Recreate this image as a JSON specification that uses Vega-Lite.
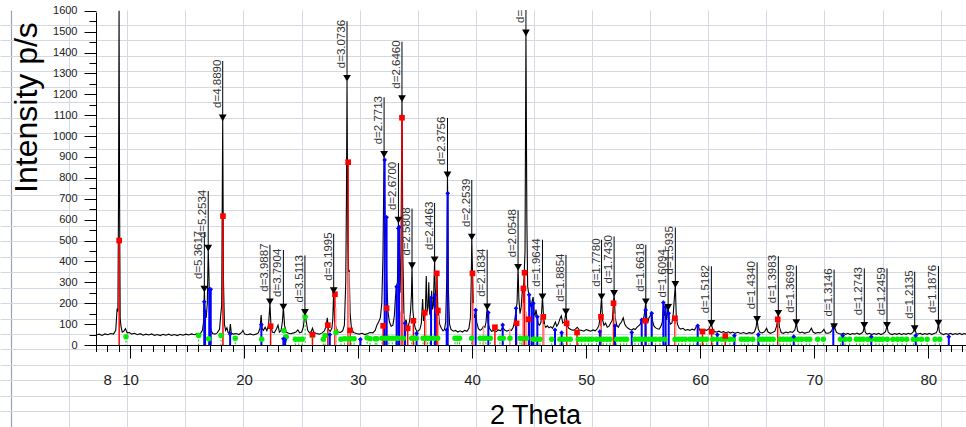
{
  "$schema": "https://vega.github.io/schema/vega-lite/v6.json",
  "width": 966,
  "height": 417,
  "autosize": {"type": "none"},
  "padding": {"top": 10, "left": 0, "right": 0, "bottom": 0},
  "background": "white",
  "config": {"view": {"stroke": null}, "font": "Liberation Sans"},
  "datasets": {
    "spectrum": [
      {"t":7.02,"i":48},{"t":7.3,"i":52},{"t":7.55,"i":46},{"t":7.8,"i":53},{"t":8.05,"i":49},{"t":8.3,"i":55},{"t":8.55,"i":52},{"t":8.75,"i":70},{"t":8.87,"i":175},{"t":8.94,"i":160},{"t":8.99,"i":650},{"t":9.04,"i":1600},{"t":9.09,"i":650},{"t":9.14,"i":125},{"t":9.22,"i":85},{"t":9.32,"i":62},{"t":9.45,"i":66},{"t":9.6,"i":78},{"t":9.75,"i":58},{"t":9.95,"i":60},
      {"t":10.15,"i":52},{"t":10.4,"i":56},{"t":10.65,"i":49},{"t":10.9,"i":54},{"t":11.15,"i":47},{"t":11.4,"i":52},{"t":11.65,"i":48},{"t":11.9,"i":53},{"t":12.15,"i":46},{"t":12.4,"i":50},{"t":12.65,"i":45},{"t":12.9,"i":51},{"t":13.15,"i":47},{"t":13.4,"i":52},{"t":13.65,"i":46},{"t":13.9,"i":50},{"t":14.15,"i":45},{"t":14.4,"i":51},{"t":14.65,"i":47},{"t":14.9,"i":52},{"t":15.15,"i":48},{"t":15.4,"i":53},{"t":15.65,"i":49},{"t":15.9,"i":55},
      {"t":16.15,"i":52},{"t":16.35,"i":70},{"t":16.45,"i":110},{"t":16.52,"i":265},{"t":16.6,"i":140},{"t":16.68,"i":130},{"t":16.78,"i":200},{"t":16.86,"i":460},{"t":16.93,"i":320},{"t":17.0,"i":110},{"t":17.1,"i":70},{"t":17.25,"i":55},{"t":17.45,"i":52},{"t":17.65,"i":58},{"t":17.85,"i":75},{"t":17.95,"i":140},{"t":18.04,"i":190},{"t":18.13,"i":1080},{"t":18.2,"i":300},{"t":18.28,"i":100},{"t":18.38,"i":70},{"t":18.5,"i":82},{"t":18.6,"i":60},{"t":18.72,"i":58},{"t":18.8,"i":100},{"t":18.88,"i":58},{"t":19.05,"i":52},{"t":19.3,"i":55},{"t":19.55,"i":50},{"t":19.8,"i":60},{"t":19.9,"i":70},
      {"t":20.05,"i":52},{"t":20.3,"i":49},{"t":20.55,"i":53},{"t":20.8,"i":48},{"t":21.05,"i":52},{"t":21.25,"i":58},{"t":21.4,"i":80},{"t":21.5,"i":143},{"t":21.58,"i":80},{"t":21.7,"i":70},{"t":21.85,"i":85},{"t":22.0,"i":68},{"t":22.15,"i":95},{"t":22.27,"i":200},{"t":22.36,"i":95},{"t":22.48,"i":62},{"t":22.65,"i":58},{"t":22.85,"i":78},{"t":22.98,"i":95},{"t":23.1,"i":62},{"t":23.25,"i":70},{"t":23.36,"i":110},{"t":23.45,"i":180},{"t":23.55,"i":95},{"t":23.7,"i":62},{"t":23.9,"i":56},{"t":24.1,"i":54},{"t":24.35,"i":58},{"t":24.55,"i":62},{"t":24.72,"i":72},{"t":24.88,"i":58},{"t":25.05,"i":62},{"t":25.2,"i":85},{"t":25.34,"i":155},{"t":25.45,"i":115},{"t":25.58,"i":70},{"t":25.75,"i":58},{"t":25.9,"i":65},
      {"t":26.0,"i":80},{"t":26.12,"i":60},{"t":26.35,"i":55},{"t":26.6,"i":52},{"t":26.85,"i":58},{"t":27.05,"i":68},{"t":27.2,"i":90},{"t":27.3,"i":130},{"t":27.4,"i":75},{"t":27.55,"i":65},{"t":27.7,"i":80},{"t":27.78,"i":120},{"t":27.86,"i":258},{"t":27.94,"i":120},{"t":28.02,"i":95},{"t":28.12,"i":78},{"t":28.25,"i":62},{"t":28.45,"i":60},{"t":28.65,"i":68},{"t":28.8,"i":95},{"t":28.92,"i":300},{"t":28.98,"i":700},{"t":29.03,"i":1265},{"t":29.1,"i":500},{"t":29.17,"i":300},{"t":29.22,"i":360},{"t":29.3,"i":150},{"t":29.42,"i":80},{"t":29.6,"i":60},{"t":29.85,"i":55},
      {"t":30.1,"i":52},{"t":30.35,"i":56},{"t":30.6,"i":50},{"t":30.85,"i":55},{"t":31.05,"i":60},{"t":31.3,"i":58},{"t":31.5,"i":70},{"t":31.65,"i":95},{"t":31.8,"i":110},{"t":31.95,"i":130},{"t":32.08,"i":200},{"t":32.18,"i":420},{"t":32.28,"i":905},{"t":32.36,"i":600},{"t":32.44,"i":500},{"t":32.52,"i":300},{"t":32.62,"i":160},{"t":32.75,"i":110},{"t":32.9,"i":90},{"t":33.05,"i":95},{"t":33.18,"i":140},{"t":33.28,"i":230},{"t":33.36,"i":280},{"t":33.45,"i":300},{"t":33.54,"i":590},{"t":33.6,"i":360},{"t":33.68,"i":250},{"t":33.76,"i":450},{"t":33.85,"i":1170},{"t":33.93,"i":420},
      {"t":34.02,"i":150},{"t":34.12,"i":105},{"t":34.22,"i":120},{"t":34.32,"i":80},{"t":34.42,"i":95},{"t":34.52,"i":115},{"t":34.6,"i":160},{"t":34.68,"i":240},{"t":34.73,"i":375},{"t":34.8,"i":170},{"t":34.9,"i":110},{"t":35.02,"i":80},{"t":35.15,"i":65},{"t":35.3,"i":68},{"t":35.42,"i":75},{"t":35.55,"i":105},{"t":35.66,"i":220},{"t":35.74,"i":115},{"t":35.82,"i":130},{"t":35.9,"i":160},{"t":35.98,"i":330},{"t":36.06,"i":160},{"t":36.14,"i":180},{"t":36.2,"i":300},{"t":36.28,"i":150},{"t":36.36,"i":140},{"t":36.45,"i":260},{"t":36.52,"i":170},{"t":36.6,"i":190},{"t":36.71,"i":400},{"t":36.78,"i":220},{"t":36.86,"i":250},{"t":36.92,"i":330},{"t":36.99,"i":180},{"t":37.06,"i":150},{"t":37.15,"i":100},{"t":37.3,"i":80},{"t":37.45,"i":68},{"t":37.58,"i":75},{"t":37.68,"i":110},{"t":37.77,"i":300},{"t":37.84,"i":810},{"t":37.92,"i":260},
      {"t":38.02,"i":100},{"t":38.15,"i":75},{"t":38.35,"i":66},{"t":38.55,"i":70},{"t":38.75,"i":62},{"t":38.95,"i":68},{"t":39.15,"i":62},{"t":39.35,"i":70},{"t":39.55,"i":66},{"t":39.72,"i":80},{"t":39.85,"i":130},{"t":39.92,"i":300},{"t":39.97,"i":510},{"t":40.04,"i":330},{"t":40.12,"i":150},{"t":40.22,"i":130},{"t":40.31,"i":170},{"t":40.4,"i":110},{"t":40.55,"i":78},{"t":40.7,"i":70},{"t":40.85,"i":76},{"t":41.0,"i":90},{"t":41.12,"i":85},{"t":41.22,"i":110},{"t":41.32,"i":180},{"t":41.4,"i":110},{"t":41.52,"i":80},{"t":41.7,"i":66},{"t":41.9,"i":70},
      {"t":42.1,"i":64},{"t":42.3,"i":72},{"t":42.5,"i":68},{"t":42.68,"i":85},{"t":42.85,"i":72},{"t":43.05,"i":66},{"t":43.25,"i":72},{"t":43.45,"i":70},{"t":43.6,"i":85},{"t":43.72,"i":110},{"t":43.85,"i":170},{"t":43.94,"i":200},{"t":44.03,"i":370},{"t":44.1,"i":220},{"t":44.2,"i":150},{"t":44.3,"i":180},{"t":44.4,"i":260},{"t":44.49,"i":250},{"t":44.56,"i":330},{"t":44.64,"i":450},{"t":44.72,"i":1490},{"t":44.8,"i":600},{"t":44.87,"i":280},{"t":44.95,"i":250},{"t":45.02,"i":240},{"t":45.1,"i":200},{"t":45.18,"i":180},{"t":45.26,"i":210},{"t":45.35,"i":230},{"t":45.44,"i":150},{"t":45.52,"i":140},{"t":45.6,"i":170},{"t":45.7,"i":135},{"t":45.8,"i":100},{"t":45.92,"i":95},
      {"t":46.04,"i":110},{"t":46.17,"i":230},{"t":46.26,"i":140},{"t":46.36,"i":95},{"t":46.46,"i":85},{"t":46.6,"i":92},{"t":46.75,"i":82},{"t":46.9,"i":88},{"t":47.05,"i":80},{"t":47.18,"i":95},{"t":47.3,"i":110},{"t":47.42,"i":90},{"t":47.55,"i":100},{"t":47.7,"i":125},{"t":47.82,"i":140},{"t":47.95,"i":105},{"t":48.1,"i":110},{"t":48.23,"i":160},{"t":48.33,"i":95},{"t":48.48,"i":80},{"t":48.65,"i":74},{"t":48.85,"i":70},{"t":49.05,"i":76},{"t":49.22,"i":85},{"t":49.4,"i":72},{"t":49.6,"i":70},{"t":49.8,"i":66},
      {"t":50.0,"i":74},{"t":50.2,"i":70},{"t":50.4,"i":66},{"t":50.6,"i":72},{"t":50.8,"i":68},{"t":51.0,"i":80},{"t":51.12,"i":95},{"t":51.24,"i":140},{"t":51.35,"i":230},{"t":51.44,"i":120},{"t":51.56,"i":95},{"t":51.7,"i":105},{"t":51.85,"i":85},{"t":52.0,"i":90},{"t":52.15,"i":105},{"t":52.3,"i":120},{"t":52.45,"i":245},{"t":52.55,"i":130},{"t":52.68,"i":95},{"t":52.82,"i":85},{"t":52.95,"i":100},{"t":53.1,"i":110},{"t":53.25,"i":130},{"t":53.38,"i":100},{"t":53.52,"i":88},{"t":53.68,"i":80},{"t":53.85,"i":74},
      {"t":54.0,"i":72},{"t":54.15,"i":78},{"t":54.3,"i":74},{"t":54.45,"i":84},{"t":54.6,"i":92},{"t":54.75,"i":100},{"t":54.87,"i":125},{"t":55.0,"i":120},{"t":55.1,"i":145},{"t":55.23,"i":205},{"t":55.32,"i":120},{"t":55.42,"i":110},{"t":55.5,"i":130},{"t":55.62,"i":140},{"t":55.72,"i":160},{"t":55.82,"i":115},{"t":55.95,"i":90},{"t":56.1,"i":82},{"t":56.25,"i":78},{"t":56.4,"i":76},{"t":56.55,"i":88},{"t":56.68,"i":110},{"t":56.78,"i":200},{"t":56.88,"i":140},{"t":56.97,"i":160},{"t":57.06,"i":120},{"t":57.19,"i":180},{"t":57.28,"i":115},{"t":57.4,"i":100},{"t":57.52,"i":105},{"t":57.64,"i":150},{"t":57.74,"i":230},{"t":57.82,"i":285},{"t":57.9,"i":140},{"t":58.0,"i":100},
      {"t":58.15,"i":82},{"t":58.3,"i":76},{"t":58.5,"i":80},{"t":58.7,"i":70},{"t":58.9,"i":74},{"t":59.1,"i":70},{"t":59.3,"i":76},{"t":59.5,"i":72},{"t":59.68,"i":90},{"t":59.8,"i":95},{"t":59.95,"i":72},{"t":60.15,"i":68},{"t":60.35,"i":74},{"t":60.55,"i":70},{"t":60.78,"i":78},{"t":60.98,"i":103},{"t":61.1,"i":72},{"t":61.25,"i":64},{"t":61.45,"i":62},{"t":61.65,"i":66},{"t":61.85,"i":60},
      {"t":62.05,"i":64},{"t":62.25,"i":58},{"t":62.45,"i":63},{"t":62.65,"i":57},{"t":62.85,"i":62},{"t":63.05,"i":56},{"t":63.3,"i":61},{"t":63.55,"i":55},{"t":63.8,"i":60},{"t":64.05,"i":54},{"t":64.3,"i":59},{"t":64.55,"i":56},{"t":64.75,"i":62},{"t":64.9,"i":85},{"t":64.99,"i":120},{"t":65.1,"i":75},{"t":65.25,"i":60},{"t":65.45,"i":58},{"t":65.65,"i":64},{"t":65.82,"i":80},{"t":65.95,"i":62},
      {"t":66.15,"i":56},{"t":66.35,"i":60},{"t":66.55,"i":66},{"t":66.7,"i":90},{"t":66.85,"i":150},{"t":66.95,"i":85},{"t":67.1,"i":60},{"t":67.3,"i":56},{"t":67.5,"i":62},{"t":67.7,"i":58},{"t":67.9,"i":64},{"t":68.1,"i":60},{"t":68.3,"i":72},{"t":68.43,"i":105},{"t":68.55,"i":66},{"t":68.75,"i":58},{"t":68.95,"i":62},{"t":69.15,"i":56},{"t":69.35,"i":60},{"t":69.55,"i":62},{"t":69.75,"i":80},{"t":69.9,"i":62},
      {"t":70.1,"i":56},{"t":70.3,"i":60},{"t":70.5,"i":58},{"t":70.7,"i":64},{"t":70.85,"i":75},{"t":71.0,"i":58},{"t":71.2,"i":56},{"t":71.4,"i":60},{"t":71.55,"i":70},{"t":71.66,"i":88},{"t":71.8,"i":82},{"t":71.95,"i":60},{"t":72.15,"i":55},{"t":72.35,"i":52},{"t":72.55,"i":57},{"t":72.75,"i":51},{"t":72.95,"i":56},{"t":73.15,"i":50},{"t":73.35,"i":55},{"t":73.55,"i":52},{"t":73.75,"i":57},{"t":73.95,"i":51},
      {"t":74.15,"i":56},{"t":74.3,"i":65},{"t":74.39,"i":92},{"t":74.48,"i":60},{"t":74.65,"i":52},{"t":74.85,"i":56},{"t":75.05,"i":50},{"t":75.25,"i":55},{"t":75.45,"i":51},{"t":75.65,"i":56},{"t":75.85,"i":50},{"t":76.05,"i":55},{"t":76.25,"i":64},{"t":76.38,"i":92},{"t":76.48,"i":62},{"t":76.65,"i":54},{"t":76.85,"i":50},{"t":77.05,"i":55},{"t":77.25,"i":51},{"t":77.45,"i":56},{"t":77.65,"i":50},{"t":77.85,"i":55},
      {"t":78.05,"i":51},{"t":78.25,"i":56},{"t":78.45,"i":52},{"t":78.65,"i":60},{"t":78.81,"i":78},{"t":78.92,"i":58},{"t":79.1,"i":52},{"t":79.3,"i":56},{"t":79.5,"i":50},{"t":79.7,"i":55},{"t":79.9,"i":51},{"t":80.1,"i":56},{"t":80.3,"i":50},{"t":80.5,"i":55},{"t":80.7,"i":58},{"t":80.8,"i":70},{"t":80.89,"i":103},{"t":80.98,"i":62},{"t":81.15,"i":54},{"t":81.35,"i":50},{"t":81.55,"i":55},{"t":81.75,"i":51},{"t":81.95,"i":56},
      {"t":82.15,"i":50},{"t":82.35,"i":55},{"t":82.55,"i":51},{"t":82.75,"i":56},{"t":82.95,"i":50},{"t":83.15,"i":55},{"t":83.31,"i":52}
    ],
    "red": [
      {"t":9.05,"i":500},{"t":18.15,"i":617},{"t":22.33,"i":90},{"t":26.0,"i":50},{"t":27.35,"i":95},{"t":27.97,"i":243},{"t":29.13,"i":875},{"t":29.3,"i":70},{"t":32.2,"i":92},{"t":32.5,"i":176},{"t":33.85,"i":1088},{"t":34.35,"i":80},{"t":34.85,"i":116},{"t":35.85,"i":155},{"t":36.9,"i":343},{"t":37.0,"i":165},{"t":40.03,"i":343},{"t":42.0,"i":85},{"t":43.9,"i":104},{"t":44.5,"i":271},{"t":44.6,"i":346},{"t":44.95,"i":123},{"t":46.24,"i":135},{"t":48.29,"i":104},{"t":49.2,"i":60},{"t":51.3,"i":135},{"t":52.4,"i":200},{"t":55.18,"i":116},{"t":57.79,"i":128},{"t":60.2,"i":65},{"t":61.0,"i":64},{"t":62.2,"i":43},{"t":66.8,"i":123}
    ],
    "pink": [
      {"t":28.05,"i":180},{"t":29.2,"i":350},{"t":33.7,"i":160},{"t":34.0,"i":150},{"t":35.95,"i":120},{"t":37.05,"i":140},{"t":40.1,"i":200},{"t":41.0,"i":90},{"t":43.3,"i":80},{"t":44.45,"i":200},{"t":44.75,"i":160},{"t":46.3,"i":100},{"t":51.25,"i":90},{"t":52.5,"i":150},{"t":55.25,"i":90},{"t":57.85,"i":100},{"t":66.9,"i":80}
    ],
    "blue": [
      {"t":16.51,"i":207},{"t":16.58,"i":160},{"t":16.95,"i":267},{"t":17.08,"i":267},{"t":18.78,"i":53},{"t":21.52,"i":98},{"t":23.45,"i":30},{"t":23.6,"i":25},{"t":27.52,"i":50},{"t":30.2,"i":27},{"t":32.33,"i":886},{"t":32.5,"i":611},{"t":33.38,"i":279},{"t":33.53,"i":558},{"t":33.6,"i":565},{"t":34.11,"i":104},{"t":35.13,"i":56},{"t":36.4,"i":226},{"t":36.74,"i":239},{"t":37.77,"i":72},{"t":37.86,"i":726},{"t":40.31,"i":167},{"t":41.42,"i":155},{"t":42.68,"i":96},{"t":43.85,"i":176},{"t":45.0,"i":240},{"t":45.22,"i":191},{"t":45.37,"i":200},{"t":45.72,"i":135},{"t":47.27,"i":72},{"t":47.85,"i":59},{"t":51.2,"i":64},{"t":52.53,"i":92},{"t":54.0,"i":60},{"t":54.87,"i":120},{"t":55.22,"i":167},{"t":55.75,"i":152},{"t":56.77,"i":203},{"t":56.97,"i":183},{"t":57.24,"i":152},{"t":59.78,"i":92},{"t":61.5,"i":50},{"t":63.0,"i":45},{"t":65.1,"i":50},{"t":68.2,"i":40},{"t":71.67,"i":90},{"t":72.5,"i":45},{"t":75.0,"i":40},{"t":78.9,"i":45},{"t":81.8,"i":40}
    ],
    "green": [
      {"t":9.65,"i":40},{"t":16.02,"i":45},{"t":16.9,"i":30},{"t":17.98,"i":45},{"t":19.23,"i":32},{"t":21.55,"i":27},{"t":23.5,"i":68},{"t":23.7,"i":40},{"t":24.5,"i":27},{"t":24.8,"i":27},{"t":25.1,"i":27},{"t":25.36,"i":135},{"t":26.0,"i":45},{"t":26.95,"i":27},{"t":27.1,"i":45},{"t":28.06,"i":60},{"t":28.5,"i":27},{"t":28.8,"i":30},{"t":29.1,"i":30},{"t":29.4,"i":30},{"t":29.65,"i":30},{"t":30.8,"i":35},{"t":31.05,"i":30},{"t":31.5,"i":30},{"t":31.65,"i":30},{"t":32.1,"i":32},{"t":32.4,"i":32},{"t":32.7,"i":32},{"t":33.0,"i":32},{"t":33.3,"i":32},{"t":33.5,"i":32},{"t":33.97,"i":32},{"t":34.7,"i":32},{"t":34.9,"i":32},{"t":35.1,"i":32},{"t":35.7,"i":32},{"t":35.9,"i":32},{"t":36.1,"i":32},{"t":36.3,"i":32},{"t":36.66,"i":32},{"t":36.98,"i":32},{"t":38.5,"i":32},{"t":38.7,"i":32},{"t":38.9,"i":32},{"t":39.96,"i":32},{"t":40.7,"i":32},{"t":40.95,"i":32},{"t":41.2,"i":32},{"t":41.6,"i":32},{"t":42.44,"i":32},{"t":42.73,"i":32},{"t":43.32,"i":32},{"t":44.2,"i":32},{"t":44.35,"i":30},{"t":44.78,"i":32},{"t":45.37,"i":28},{"t":45.6,"i":28},{"t":45.95,"i":28},{"t":46.98,"i":28},{"t":47.7,"i":28},{"t":48.0,"i":28},{"t":48.3,"i":28},{"t":48.6,"i":28},{"t":49.3,"i":28},{"t":49.6,"i":28},{"t":49.9,"i":28},{"t":50.2,"i":28},{"t":50.5,"i":28},{"t":50.9,"i":28},{"t":51.2,"i":28},{"t":51.5,"i":28},{"t":51.8,"i":28},{"t":52.1,"i":28},{"t":52.68,"i":28},{"t":53.0,"i":28},{"t":53.3,"i":28},{"t":53.55,"i":28},{"t":54.28,"i":28},{"t":54.6,"i":28},{"t":54.9,"i":28},{"t":55.2,"i":28},{"t":55.5,"i":28},{"t":55.8,"i":28},{"t":56.1,"i":28},{"t":56.47,"i":28},{"t":56.9,"i":28},{"t":57.8,"i":28},{"t":58.1,"i":28},{"t":58.4,"i":28},{"t":58.7,"i":28},{"t":59.1,"i":28},{"t":59.4,"i":28},{"t":59.7,"i":28},{"t":60.0,"i":28},{"t":60.3,"i":28},{"t":60.57,"i":28},{"t":61.1,"i":28},{"t":61.5,"i":28},{"t":61.9,"i":28},{"t":62.2,"i":28},{"t":62.6,"i":28},{"t":62.9,"i":28},{"t":63.6,"i":27},{"t":63.9,"i":27},{"t":64.2,"i":27},{"t":64.6,"i":27},{"t":65.2,"i":27},{"t":65.5,"i":27},{"t":65.8,"i":27},{"t":66.1,"i":27},{"t":66.4,"i":27},{"t":67.0,"i":27},{"t":67.3,"i":27},{"t":67.6,"i":27},{"t":67.9,"i":27},{"t":68.3,"i":27},{"t":68.6,"i":27},{"t":68.9,"i":27},{"t":69.3,"i":27},{"t":69.6,"i":27},{"t":70.3,"i":27},{"t":70.8,"i":27},{"t":72.3,"i":27},{"t":72.7,"i":27},{"t":73.1,"i":27},{"t":73.7,"i":27},{"t":74.0,"i":27},{"t":74.3,"i":27},{"t":74.7,"i":27},{"t":75.0,"i":27},{"t":75.4,"i":27},{"t":75.7,"i":27},{"t":76.0,"i":27},{"t":76.4,"i":27},{"t":76.9,"i":27},{"t":77.3,"i":27},{"t":77.7,"i":27},{"t":78.1,"i":27},{"t":78.7,"i":27},{"t":79.0,"i":27},{"t":79.4,"i":27},{"t":79.9,"i":27},{"t":80.6,"i":27},{"t":81.0,"i":27}
    ],
    "peaks": [
      {"t":16.52,"i":268,"d":"d=5.3617"},{"t":16.86,"i":464,"d":"d=5.2534"},{"t":18.13,"i":1087,"d":"d=4.8890"},{"t":22.27,"i":207,"d":"d=3.9887"},{"t":23.45,"i":182,"d":"d=3.7904"},{"t":25.34,"i":156,"d":"d=3.5113"},{"t":27.86,"i":260,"d":"d=3.1995"},{"t":29.03,"i":1277,"d":"d=3.0736"},{"t":32.28,"i":913,"d":"d=2.7713"},{"t":33.54,"i":598,"d":"d=2.6700"},{"t":33.85,"i":1179,"d":"d=2.6460"},{"t":34.73,"i":380,"d":"d=2.5808"},{"t":36.71,"i":407,"d":"d=2.4463"},{"t":37.84,"i":814,"d":"d=2.3756"},{"t":39.97,"i":517,"d":"d=2.2539"},{"t":41.32,"i":183,"d":"d=2.1834"},{"t":44.03,"i":372,"d":"d=2.0548"},{"t":44.72,"i":1494,"d":"d=2.0248"},{"t":46.17,"i":231,"d":"d=1.9644"},{"t":48.23,"i":159,"d":"d=1.8854"},{"t":51.35,"i":231,"d":"d=1.7780"},{"t":52.45,"i":247,"d":"d=1.7430"},{"t":55.23,"i":207,"d":"d=1.6618"},{"t":57.19,"i":180,"d":"d=1.6094"},{"t":57.82,"i":290,"d":"d=1.5935"},{"t":60.98,"i":104,"d":"d=1.5182"},{"t":64.99,"i":123,"d":"d=1.4340"},{"t":66.85,"i":152,"d":"d=1.3983"},{"t":68.43,"i":107,"d":"d=1.3699"},{"t":71.74,"i":88,"d":"d=1.3146"},{"t":74.39,"i":94,"d":"d=1.2743"},{"t":76.38,"i":94,"d":"d=1.2459"},{"t":78.81,"i":78,"d":"d=1.2135"},{"t":80.89,"i":105,"d":"d=1.1876"}
    ]
  },
  "resolve": {"axis": {"x": "independent", "y": "independent"}},
  "layer": [
    {
      "data": {"name": "spectrum"},
      "mark": {"type": "line", "color": "#000000", "strokeWidth": 1.1, "clip": true},
      "encoding": {
        "x": {"field": "t", "type": "quantitative", "scale": {"domain": [-1.3995, 83.308], "nice": false, "zero": false},
              "axis": {"orient": "bottom", "values": [4.66, 9.755, 14.849, 19.944, 25.039, 30.133, 35.228, 40.323, 45.418, 50.512, 55.607, 60.702, 65.796, 70.891, 75.986, 81.08], "grid": true, "gridColor": "#d3d8e2", "gridWidth": 1, "ticks": false, "labels": false, "domain": false, "title": null}},
        "y": {"field": "i", "type": "quantitative", "scale": {"domain": [-392.5, 1603.6], "nice": false, "zero": false},
              "axis": {"orient": "left", "values": [1531.8, 1457.9, 1383.9, 1309.9, 1236.0, 1162.0, 1088.0, 1014.1, 940.1, 866.2, 792.2, 718.2, 644.3, 570.3, 496.4, 422.4, 348.4, 274.5, 200.5, 126.6, 52.6, -21.4, -95.3, -169.3, -243.2, -317.2, -391.2], "grid": true, "gridColor": "#d3d8e2", "gridWidth": 1, "ticks": false, "labels": false, "domain": false, "title": null}}
      }
    },
    {
      "data": {"name": "green"},
      "mark": {"type": "rule", "color": "#00d000", "strokeWidth": 1, "strokeDash": [2, 2]},
      "encoding": {
        "x": {"field": "t", "type": "quantitative", "scale": {"domain": [-1.3995, 83.308], "nice": false, "zero": false},
              "axis": {"orient": "bottom", "values": [-0.435], "grid": true, "gridColor": "#9aa3b5", "gridWidth": 1.2, "ticks": false, "labels": false, "domain": false, "title": null}},
        "y": {"field": "i", "type": "quantitative", "scale": {"domain": [-392.5, 1603.6], "nice": false, "zero": false},
              "axis": {"orient": "left", "offset": -96, "values": [50, 150, 250, 350, 450, 550, 650, 750, 850, 950, 1050, 1150, 1250, 1350, 1450, 1550], "tickSize": 7, "tickColor": "#000000", "tickWidth": 1, "labels": false, "domain": false, "grid": false, "title": null}},
        "y2": {"datum": 0}
      }
    },
    {
      "data": {"name": "red"},
      "mark": {"type": "rule", "color": "#ff0000", "strokeWidth": 1.5},
      "encoding": {
        "x": {"field": "t", "type": "quantitative", "scale": {"domain": [-1.3995, 83.308], "nice": false, "zero": false},
              "axis": {"orient": "bottom", "offset": -82, "values": [8, 10, 20, 30, 40, 50, 60, 70, 80], "format": "d", "ticks": false, "tickSize": 0, "labelPadding": 27, "labelFontSize": 15, "labelFont": "Liberation Sans", "labelColor": "#222222", "domain": true, "domainColor": "#000000", "domainWidth": 1, "domainDash": [0, 96, 900], "grid": false,
                       "title": "2 Theta", "titleFontSize": 27, "titleFont": "Liberation Sans", "titleFontWeight": "normal", "titleColor": "#000000", "titleX": 535, "titleY": 78, "titleAlign": "center", "titleBaseline": "alphabetic"}},
        "y": {"field": "i", "type": "quantitative", "scale": {"domain": [-392.5, 1603.6], "nice": false, "zero": false},
              "axis": {"orient": "left", "offset": -96, "values": [0, 100, 200, 300, 400, 500, 600, 700, 800, 900, 1000, 1100, 1200, 1300, 1400, 1500, 1600], "format": "d", "tickSize": 12, "tickColor": "#000000", "tickWidth": 1, "labelPadding": 7, "labelFontSize": 11, "labelFont": "Liberation Sans", "labelColor": "#222222", "domain": true, "domainColor": "#000000", "domainWidth": 1, "domainDash": [0, 82, 333, 50], "grid": false,
                       "title": "Intensity p/s", "titleFontSize": 32, "titleFont": "Liberation Sans", "titleFontWeight": "normal", "titleColor": "#000000", "titleAngle": 270, "titleX": -60, "titleY": 97, "titleAlign": "center", "titleBaseline": "alphabetic"}},
        "y2": {"datum": 0}
      }
    },
    {
      "data": {"name": "pink"},
      "mark": {"type": "rule", "color": "#ff9c9c", "strokeWidth": 1.5},
      "encoding": {
        "x": {"field": "t", "type": "quantitative", "scale": {"domain": [-1.3995, 83.308], "nice": false, "zero": false},
              "axis": {"orient": "bottom", "offset": -82, "values": [10, 20, 30, 40, 50, 60, 70, 80], "tickSize": 13, "tickColor": "#000000", "tickWidth": 1, "labels": false, "domain": false, "grid": false, "title": null}},
        "y": {"field": "i", "type": "quantitative", "scale": {"domain": [-392.5, 1603.6], "nice": false, "zero": false}, "axis": null},
        "y2": {"datum": 0}
      }
    },
    {
      "data": {"name": "blue"},
      "mark": {"type": "rule", "color": "#0000ff", "strokeWidth": 2},
      "encoding": {
        "x": {"field": "t", "type": "quantitative", "scale": {"domain": [-1.3995, 83.308], "nice": false, "zero": false},
              "axis": {"orient": "bottom", "offset": -82, "values": [7, 8, 9, 11, 12, 13, 14, 15, 16, 17, 18, 19, 21, 22, 23, 24, 25, 26, 27, 28, 29, 31, 32, 33, 34, 35, 36, 37, 38, 39, 41, 42, 43, 44, 45, 46, 47, 48, 49, 51, 52, 53, 54, 55, 56, 57, 58, 59, 61, 62, 63, 64, 65, 66, 67, 68, 69, 71, 72, 73, 74, 75, 76, 77, 78, 79, 81, 82, 83], "tickSize": 6.5, "tickColor": "#000000", "tickWidth": 1, "labels": false, "domain": false, "grid": false, "title": null}},
        "y": {"field": "i", "type": "quantitative", "scale": {"domain": [-392.5, 1603.6], "nice": false, "zero": false}, "axis": null},
        "y2": {"datum": 0}
      }
    },
    {
      "data": {"name": "green"},
      "mark": {"type": "point", "shape": "circle", "filled": true, "color": "#00ee00", "size": 30, "opacity": 1},
      "encoding": {
        "x": {"field": "t", "type": "quantitative", "scale": {"domain": [-1.3995, 83.308], "nice": false, "zero": false}, "axis": null},
        "y": {"field": "i", "type": "quantitative", "scale": {"domain": [-392.5, 1603.6], "nice": false, "zero": false}, "axis": null}
      }
    },
    {
      "data": {"name": "blue"},
      "mark": {"type": "point", "shape": "diamond", "filled": true, "color": "#0000ff", "size": 22, "opacity": 1},
      "encoding": {
        "x": {"field": "t", "type": "quantitative", "scale": {"domain": [-1.3995, 83.308], "nice": false, "zero": false}, "axis": null},
        "y": {"field": "i", "type": "quantitative", "scale": {"domain": [-392.5, 1603.6], "nice": false, "zero": false}, "axis": null}
      }
    },
    {
      "data": {"name": "red"},
      "mark": {"type": "point", "shape": "square", "filled": true, "color": "#ff0000", "size": 32, "opacity": 1},
      "encoding": {
        "x": {"field": "t", "type": "quantitative", "scale": {"domain": [-1.3995, 83.308], "nice": false, "zero": false}, "axis": null},
        "y": {"field": "i", "type": "quantitative", "scale": {"domain": [-392.5, 1603.6], "nice": false, "zero": false}, "axis": null}
      }
    },
    {
      "data": {"name": "peaks"},
      "mark": {"type": "rule", "color": "#000000", "strokeWidth": 1, "y2Offset": -57, "clip": true},
      "encoding": {
        "x": {"field": "t", "type": "quantitative", "scale": {"domain": [-1.3995, 83.308], "nice": false, "zero": false}, "axis": null},
        "y": {"field": "i", "type": "quantitative", "scale": {"domain": [-392.5, 1603.6], "nice": false, "zero": false}, "axis": null},
        "y2": {"field": "i"}
      }
    },
    {
      "data": {"name": "peaks"},
      "mark": {"type": "point", "shape": "triangle-down", "filled": true, "color": "#000000", "size": 60, "opacity": 1},
      "encoding": {
        "x": {"field": "t", "type": "quantitative", "scale": {"domain": [-1.3995, 83.308], "nice": false, "zero": false}, "axis": null},
        "y": {"field": "i", "type": "quantitative", "scale": {"domain": [-392.5, 1603.6], "nice": false, "zero": false}, "axis": null}
      }
    },
    {
      "data": {"name": "peaks"},
      "mark": {"type": "text", "angle": 270, "align": "left", "baseline": "bottom", "dx": 10, "dy": 0, "fontSize": 11.5, "font": "Liberation Sans", "color": "#333333", "clip": true},
      "encoding": {
        "x": {"field": "t", "type": "quantitative", "scale": {"domain": [-1.3995, 83.308], "nice": false, "zero": false}, "axis": null},
        "y": {"field": "i", "type": "quantitative", "scale": {"domain": [-392.5, 1603.6], "nice": false, "zero": false}, "axis": null},
        "text": {"field": "d"}
      }
    }
  ]
}
